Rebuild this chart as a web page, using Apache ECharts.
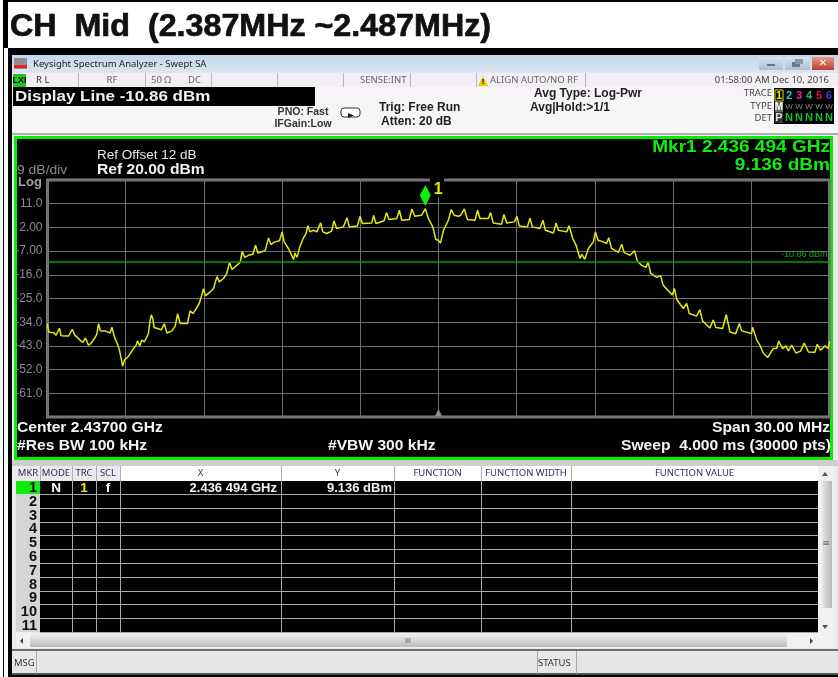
<!DOCTYPE html>
<html>
<head>
<meta charset="utf-8">
<style>
  html, body { margin: 0; padding: 0; background: #fff; }
  #main { width: 838px; height: 677px; }
</style>
<script src="https://cdn.jsdelivr.net/npm/echarts@6/dist/echarts.min.js"></script>
</head>
<body>
<div id="main"></div>
<script>
// trace, x is MHz from the left edge of the 30 MHz span
const traceMHz = [
  0, 0.01, 0.06, 0.23, 0.33, 0.38, 0.46, 0.52, 0.81, 0.95, 1.05, 1.25, 1.36, 1.46, 1.57, 1.66, 1.80, 1.89, 1.96, 2.03,
  2.21, 2.25, 2.40, 2.47, 2.57, 2.69, 2.76, 2.84, 2.88, 2.93, 2.95, 3.11, 3.26, 3.40, 3.45, 3.54, 3.62, 3.72, 3.87, 3.94,
  3.98, 4.04, 4.09, 4.37, 4.48, 4.58, 4.77, 4.90, 4.99, 5.09, 5.37, 5.47, 5.58, 5.67, 5.82, 5.92, 5.98, 6.06, 6.24, 6.37,
  6.50, 6.59, 6.75, 6.88, 6.98, 7.08, 7.26, 7.39, 7.47, 7.57, 7.71, 7.88, 7.98, 8.07, 8.35, 8.48, 8.57, 8.70, 8.90, 9.00,
  9.08, 9.26, 9.44, 9.49, 9.57, 9.68, 9.81, 9.92, 9.99, 10.07, 10.20, 10.33, 10.40, 10.48, 10.56, 10.71, 10.90, 10.99, 11.09, 11.35,
  11.49, 11.58, 11.89, 11.99, 12.08, 12.44, 12.51, 12.60, 12.91, 13.01, 13.10, 13.40, 13.50, 13.59, 13.88, 13.98, 14.09, 14.35, 14.494, 14.61,
  14.78, 14.90, 14.99, 15.08, 15.19, 15.38, 15.49, 15.60, 15.76, 15.85, 15.99, 16.11, 16.40, 16.50, 16.59, 16.91, 17.00, 17.10, 17.42, 17.51,
  17.62, 17.91, 18.01, 18.10, 18.41, 18.51, 18.60, 18.89, 19.01, 19.10, 19.41, 19.51, 19.60, 19.92, 20.01, 20.15, 20.28, 20.43, 20.50, 20.61,
  20.75, 20.94, 21.02, 21.12, 21.30, 21.45, 21.53, 21.64, 21.90, 21.96, 22.03, 22.12, 22.35, 22.52, 22.63, 22.79, 22.96, 23.04, 23.14, 23.37,
  23.52, 23.62, 23.82, 23.97, 24.05, 24.14, 24.39, 24.52, 24.62, 24.90, 25.03, 25.13, 25.41, 25.54, 25.64, 25.90, 26.04, 26.18, 26.40, 26.54,
  26.63, 27.01, 27.05, 27.21, 27.33, 27.46, 27.63, 27.84, 27.97, 28.05, 28.20, 28.33, 28.42, 28.55, 28.71, 28.89, 29.03, 29.19, 29.44, 29.53,
  29.66, 29.83, 29.95, 30
]
const traceDbm = [
  -34.5, -36.0, -37.8, -37.9, -38.9, -39.1, -36.3, -39.1, -39.2, -36.7, -38.9, -40.8, -41.7, -40.0, -42.7, -42.1, -40.2, -38.6, -34.6, -37.3,
  -37.3, -36.8, -38.1, -35.9, -39.6, -42.5, -44.6, -48.4, -50.7, -51.0, -48.4, -46.9, -44.6, -42.7, -41.1, -43.0, -40.8, -41.5, -38.3, -33.2,
  -31.2, -32.7, -36.0, -36.9, -34.6, -38.1, -37.3, -35.5, -30.8, -34.5, -34.5, -29.7, -30.7, -29.4, -26.9, -23.7, -21.3, -24.0, -22.5, -21.2,
  -16.7, -18.7, -17.4, -15.5, -11.3, -14.0, -12.4, -11.3, -7.2, -9.4, -8.6, -8.2, -4.8, -7.7, -6.9, -2.0, -4.5, -3.6, -3.1, 0.3,
  -3.5, -6.3, -10.2, -7.7, -9.4, -5.4, -2.2, -0.3, 2.6, 0.3, 0.9, 0.3, 0.7, 3.7, 0.3, -0.3, 0.6, 4.5, 1.6, 2.2,
  5.7, 2.2, 2.5, 6.2, 3.5, 3.7, 6.5, 3.5, 4.5, 7.6, 5.0, 5.4, 8.5, 4.7, 5.0, 9.0, 6.2, 6.6, 9.136, 5.4,
  2.2, -2.6, -2.9, -3.9, 0.9, 4.7, 8.8, 6.6, 6.2, 6.6, 9.0, 5.0, 4.7, 8.5, 5.4, 5.4, 7.6, 3.7, 3.2, 6.9,
  3.7, 4.1, 6.2, 2.5, 2.2, 5.5, 2.2, 1.6, 4.7, 0.9, -0.1, 3.7, 0.9, 0.3, 2.6, -2.2, -4.8, -9.8, -8.2, -10.1,
  -6.0, -3.5, 0.3, -2.9, -3.4, -4.1, -1.9, -6.0, -7.5, -7.3, -4.4, -7.5, -8.6, -6.9, -10.8, -12.4, -13.2, -11.1, -15.5, -17.0,
  -16.3, -20.0, -22.1, -23.7, -21.2, -25.4, -28.8, -26.9, -30.7, -31.7, -29.2, -33.5, -36.2, -33.2, -36.0, -36.4, -31.1, -37.7, -38.4, -34.5,
  -37.3, -38.3, -35.9, -40.8, -42.7, -45.7, -47.4, -44.0, -44.0, -41.2, -44.0, -43.0, -44.9, -42.7, -45.7, -45.0, -41.9, -45.3, -45.4, -42.4,
  -44.6, -43.0, -44.0, -41.2
]
const yGridValues = [20, 11, 2, -7, -16, -25, -34, -43, -52, -61, -70]
const yLabelValues = [11, 2, -7, -16, -25, -34, -43, -52, -61]
const yLabelTexts = ['11.0', '2.00', '-7.00', '-16.0', '-25.0', '-34.0', '-43.0', '-52.0', '-61.0']
const displayLine = -10.86
const markerMHz = 14.494
const markerDbm = 9.136

const tableHeaders = ['MKR', 'MODE', 'TRC', 'SCL', 'X', 'Y', 'FUNCTION', 'FUNCTION WIDTH', 'FUNCTION VALUE']
const markerRows = ['1', '2', '3', '4', '5', '6', '7', '8', '9', '10', '11']
const traceDigits = ['1', '2', '3', '4', '5', '6']
const traceDigitColors = ['#e8e800', '#19c8e0', '#e020c0', '#20c060', '#e81050', '#5030e0']

const UI = '"Noto Sans", sans-serif'
const ARIAL = '"Liberation Sans"'

function box (x, y, w, h, fill, z) {
  return { type: 'rect', silent: true, z: z || -5, shape: { x, y, width: w, height: h }, style: { fill } }
}
function grad (x, y, w, h, c1, c2, z, horizontal) {
  return box(x, y, w, h, new echarts.graphic.LinearGradient(0, 0, horizontal ? 1 : 0, horizontal ? 0 : 1, [
    { offset: 0, color: c1 }, { offset: 1, color: c2 }
  ]), z)
}
// the screenshot was stretched sideways, opt.sx widens the text the same way
function txt (x, y, text, size, fill, opt) {
  opt = opt || {}
  return {
    type: 'text',
    silent: true,
    z: opt.z || 3,
    x,
    y,
    scaleX: opt.sx || 1,
    style: {
      text,
      fill,
      stroke: opt.heavy ? fill : null,
      lineWidth: opt.heavy || 0,
      fontSize: size,
      fontWeight: opt.bold ? 'bold' : 'normal',
      fontFamily: opt.family || ARIAL,
      align: opt.align || 'left',
      verticalAlign: 'middle'
    }
  }
}
function vline (x, y1, y2, stroke, z) {
  return { type: 'line', silent: true, z: z || -3, shape: { x1: x + 0.5, y1, x2: x + 0.5, y2 }, style: { stroke, lineWidth: 1 } }
}
function hline (y, x1, x2, stroke, z) {
  return { type: 'line', silent: true, z: z || -3, shape: { x1, y1: y + 0.5, x2, y2: y + 0.5 }, style: { stroke, lineWidth: 1 } }
}
function tri (pts, fill, z) {
  return { type: 'polygon', silent: true, z: z || 3, shape: { points: pts }, style: { fill } }
}

const els = []
// page frame and the title strip
els.push(box(0, 0, 838, 677, '#000000', -10))
els.push(box(0, 0, 3, 677, '#ffffff', -9))
els.push(box(4, 48, 4, 629, '#ffffff', -9))
els.push(box(8, 2, 830, 46, '#ffffff', -9))
els.push(box(12, 55, 826, 620, '#eceaed', -9))
els.push(txt(10, 27, 'CH  Mid  (2.387MHz ~2.487MHz)', 31, '#111111', { bold: true, sx: 1.04, heavy: 0.7 }))

// window title bar
els.push(grad(12, 55, 826, 18, '#c3d6ea', '#dbe7f3', -8))
els.push(box(14, 58, 13, 11, '#8f8f8f', -7))
els.push(box(14, 65, 13, 3, '#e82020', -6))
els.push(txt(33, 64, 'Keysight Spectrum Analyzer - Swept SA', 9.5, '#222222', { family: UI }))
els.push(grad(759, 57, 24, 13, '#d6e2ee', '#aebfd0', -6))
els.push(grad(785, 57, 25, 13, '#d6e2ee', '#aebfd0', -6))
els.push(grad(812, 57, 22, 13, '#e89a88', '#b84030', -6))
els.push(box(767, 64, 8, 2, '#6a7a8a', -5))
els.push(box(792, 62, 8, 5, '#6a7a8a', -5))
els.push(box(795, 59, 8, 5, '#8a9aaa', -5))
els.push(txt(823, 63.5, '✕', 10, '#ffffff', { bold: true, align: 'center', family: '"DejaVu Sans"' }))

// status row
els.push(box(12, 73, 826, 14, '#f2eef3', -8))
els.push(box(13, 74, 13, 13, '#22c41e', -6))
els.push(txt(19.5, 80.5, 'LXI', 9, '#000000', { bold: true, align: 'center' }))
els.push(txt(36, 80, 'R L', 9.5, '#333333', { family: UI }))
els.push(txt(112, 80, 'RF', 9.5, '#666666', { family: UI, align: 'center' }))
els.push(txt(151, 80, '50 Ω', 9.5, '#666666', { family: UI }))
els.push(txt(188, 80, 'DC', 9.5, '#666666', { family: UI }))
els.push(txt(360, 80, 'SENSE:INT', 9.5, '#666666', { family: UI }))
els.push(tri([[478, 86], [483, 76], [488, 86]], '#e8c800'))
els.push(txt(483, 82, '!', 8, '#000000', { bold: true, align: 'center' }))
els.push(txt(490, 80, 'ALIGN AUTO/NO RF', 9.5, '#666666', { family: UI }))
els.push(txt(829, 80, '01:58:00 AM Dec 10, 2016', 9.5, '#444444', { family: UI, align: 'right' }))
;[78, 145, 211, 277, 343, 410, 476, 585].forEach(x => els.push(vline(x, 73, 87, '#bbb6bc')))

// settings row
els.push(box(12, 87, 826, 46, '#f7f5f7', -8))
els.push(box(13, 87, 302, 19, '#000000', -6))
els.push(txt(15, 96.5, 'Display Line -10.86 dBm', 15.5, '#f0f0f0', { bold: true, sx: 1.095 }))
els.push(txt(303, 112, 'PNO: Fast', 10.5, '#333333', { bold: true, align: 'center' }))
els.push(txt(303, 124, 'IFGain:Low', 10.5, '#333333', { bold: true, align: 'center' }))
els.push({ type: 'rect', silent: true, z: -3, shape: { x: 341, y: 108, width: 19, height: 9, r: 3 }, style: { fill: '#ffffff', stroke: '#333333', lineWidth: 1 } })
els.push(tri([[348, 113], [354, 115.5], [348, 118]], '#222222'))
els.push(txt(379, 108, 'Trig: Free Run', 12, '#222222', { bold: true }))
els.push(txt(381, 122, 'Atten: 20 dB', 12, '#222222', { bold: true }))
els.push(txt(534, 94, 'Avg Type: Log-Pwr', 12, '#222222', { bold: true }))
els.push(txt(530, 108, 'Avg|Hold:>1/1', 12, '#222222', { bold: true }))
els.push(txt(772, 93.5, 'TRACE', 9.5, '#444444', { family: UI, align: 'right' }))
els.push(txt(772, 106, 'TYPE', 9.5, '#444444', { family: UI, align: 'right' }))
els.push(txt(772, 118, 'DET', 9.5, '#444444', { family: UI, align: 'right' }))
els.push(box(774, 88, 60, 36, '#000000', -6))
els.push({ type: 'rect', silent: true, z: 2, shape: { x: 775, y: 90, width: 8, height: 11 }, style: { fill: '#000000', stroke: '#e8e800', lineWidth: 1 } })
traceDigits.forEach((d, i) => {
  els.push(txt(779 + i * 10, 95.5, d, 11, traceDigitColors[i], { bold: true, align: 'center', z: 4 }))
  if (i > 0) {
    els.push(txt(779 + i * 10, 106.5, 'W', 8, '#8a8a8a', { align: 'center' }))
    els.push(txt(779 + i * 10, 118, 'N', 11, '#10c030', { bold: true, align: 'center' }))
  }
})
els.push(box(775, 102, 8, 10, '#666666', -3))
els.push(box(775, 112, 8, 11, '#333333', -3))
els.push(txt(779, 107, 'M', 10, '#ffffff', { bold: true, align: 'center' }))
els.push(txt(779, 118, 'P', 11, '#dddddd', { bold: true, align: 'center' }))
els.push(box(12, 133, 826, 2, '#b0aeb0', -8))

// measurement window, the plot itself sits on top of this
els.push(box(14, 136, 819, 324, '#00f000', -8))
els.push(box(17, 139, 813, 318, '#000000', -7))
els.push(txt(97, 156, 'Ref Offset 12 dB', 12, '#e8e8e8', { sx: 1.125 }))
els.push(txt(97, 170, 'Ref 20.00 dBm', 14, '#f0f0f0', { bold: true, sx: 1.115 }))
els.push(txt(17, 171, '9 dB/div', 12, '#8c8c8c', { sx: 1.16 }))
els.push(txt(18, 182, 'Log', 13, '#a0a0a0', { bold: true }))
els.push(txt(830, 147, 'Mkr1 2.436 494 GHz', 17, '#10ee10', { bold: true, align: 'right', sx: 1.12 }))
els.push(txt(830, 165, '9.136 dBm', 17, '#10ee10', { bold: true, align: 'right', sx: 1.12 }))
els.push(txt(17, 428, 'Center 2.43700 GHz', 14, '#f4f4f4', { bold: true, sx: 1.115 }))
els.push(txt(17, 446, '#Res BW 100 kHz', 14, '#f4f4f4', { bold: true, sx: 1.115 }))
els.push(txt(328, 446, '#VBW 300 kHz', 14, '#f4f4f4', { bold: true, sx: 1.115 }))
els.push(txt(830, 428, 'Span 30.00 MHz', 14, '#f4f4f4', { bold: true, align: 'right', sx: 1.115 }))
els.push(txt(831, 446, 'Sweep  4.000 ms (30000 pts)', 14, '#f4f4f4', { bold: true, align: 'right', sx: 1.115 }))
// gap in the top border and grid under the marker, and the centre mark below
els.push(box(430, 177, 14, 20, '#000000', 1))
els.push(tri([[435, 416], [438.5, 409], [442, 416]], '#8c8c8c'))

// marker table
const colEdges = [16, 40, 72, 96, 120, 281, 394, 481, 571, 818]
els.push(box(12, 460, 826, 6, '#cfcdcf', -8))
els.push(box(16, 466, 802, 15, '#ffffff', -7))
els.push(box(16, 466, 104, 15, '#ebe9ec', -7))
tableHeaders.forEach((h, i) => {
  const cx = (colEdges[i] + colEdges[i + 1]) / 2
  els.push(txt(cx, 473, h, 9.5, '#352c5c', { family: UI, align: 'center' }))
})
colEdges.slice(1, -1).forEach(x => els.push(vline(x, 466, 481, '#b0aeb0', -2)))
els.push(box(40, 481, 778, 151, '#000000', -7))
els.push(box(16, 481, 24, 151, '#d6d4d6', -7))
els.push(box(16, 481, 24, 13, '#10ec10', -6))
markerRows.forEach((r, i) => {
  const yy = 488 + i * 13.8
  els.push(txt(37, yy, r, 14.5, '#111111', { bold: true, align: 'right' }))
  els.push(hline(Math.round(494 + i * 13.8), 40, 818, '#a8a8a8', -2))
})
colEdges.slice(2, -1).forEach(x => els.push(vline(x, 481, 632, '#a8a8a8', -2)))
els.push(txt(56, 488, 'N', 13.5, '#ffffff', { bold: true, align: 'center' }))
els.push(txt(84, 488, '1', 13.5, '#e8e800', { bold: true, align: 'center' }))
els.push(txt(108, 488, 'f', 13.5, '#ffffff', { bold: true, align: 'center' }))
els.push(txt(277, 488, '2.436 494 GHz', 13, '#f0f0f0', { bold: true, align: 'right' }))
els.push(txt(392, 488, '9.136 dBm', 13, '#f0f0f0', { bold: true, align: 'right' }))

// scrollbars
els.push(box(818, 466, 16, 167, '#f2f1f2', -7))
els.push(tri([[822, 476], [825, 472], [828, 476]], '#555555'))
els.push(tri([[822, 625], [825, 629], [828, 625]], '#555555'))
els.push(grad(822, 481, 10, 127, '#e6e6e6', '#b8b8b8', -6, true))
els.push(txt(826, 544, '≡', 9, '#666666', { align: 'center', family: '"DejaVu Sans"' }))
els.push(box(16, 633, 818, 15, '#f2f1f2', -7))
els.push(grad(30, 634, 757, 13, '#f0f0f0', '#bdbdbd', -6))
els.push(txt(408, 641, 'III', 7, '#555555', { align: 'center' }))
els.push(tri([[23, 638], [20, 641], [23, 644]], '#444444'))
els.push(tri([[810, 638], [813, 641], [810, 644]], '#444444'))

// status bar
els.push(box(12, 649, 826, 2, '#6a6a6a', -6))
els.push(box(12, 651, 826, 22, '#e8e5e9', -7))
els.push(box(12, 673, 826, 2, '#555555', -6))
els.push(vline(36, 651, 674, '#aaaaaa'))
els.push(vline(537, 651, 674, '#aaaaaa'))
els.push(vline(576, 651, 674, '#aaaaaa'))
els.push(txt(14, 663, 'MSG', 9.5, '#333333', { family: UI }))
els.push(txt(538, 663, 'STATUS', 9.5, '#333333', { family: UI }))

const chart = echarts.init(document.getElementById('main'), null, { renderer: 'canvas' })
chart.setOption({
  animation: false,
  backgroundColor: 'transparent',
  graphic: { elements: els },
  grid: { left: 47.5, top: 180, width: 782, height: 237, show: true, backgroundColor: 'transparent', borderColor: '#7a7a7a', borderWidth: 3 },
  xAxis: {
    type: 'value',
    min: 0,
    max: 30,
    interval: 3,
    axisLine: { show: false },
    axisTick: { show: false },
    axisLabel: { show: false },
    splitLine: { show: true, lineStyle: { color: '#6e6e6e', width: 1 } }
  },
  yAxis: {
    type: 'value',
    min: -70,
    max: 20,
    axisLine: { show: false },
    axisTick: { show: false, customValues: yGridValues },
    axisLabel: {
      show: true,
      customValues: yLabelValues,
      color: '#8c8c8c',
      fontSize: 12,
      fontFamily: ARIAL,
      margin: 5,
      formatter: v => yLabelTexts[yLabelValues.indexOf(v)]
    },
    splitLine: { show: true, lineStyle: { color: '#6e6e6e', width: 1 } }
  },
  series: [{
    type: 'line',
    data: traceMHz.map((x, i) => [x, traceDbm[i]]),
    showSymbol: false,
    smooth: false,
    lineStyle: { color: '#e6e610', width: 1.5 },
    z: 3,
    markLine: {
      silent: true,
      symbol: 'none',
      animation: false,
      data: [{ yAxis: displayLine }],
      lineStyle: { color: '#00a000', width: 1.5, type: 'solid', opacity: 1 },
      label: {
        show: true,
        position: 'insideEndTop',
        formatter: '-10.86 dBm',
        color: '#0fa80f',
        fontSize: 9,
        fontFamily: ARIAL,
        distance: 2
      }
    },
    markPoint: {
      silent: true,
      animation: false,
      data: [{ coord: [markerMHz, markerDbm] }],
      symbol: 'diamond',
      symbolSize: [11, 21],
      symbolOffset: [0, -13],
      itemStyle: { color: '#10f010' },
      label: {
        show: true,
        position: 'right',
        offset: [-2, -6],
        formatter: '1',
        color: '#e8e800',
        fontSize: 16,
        fontWeight: 'bold',
        fontFamily: ARIAL
      }
    }
  }]
})
</script>
</body>
</html>
